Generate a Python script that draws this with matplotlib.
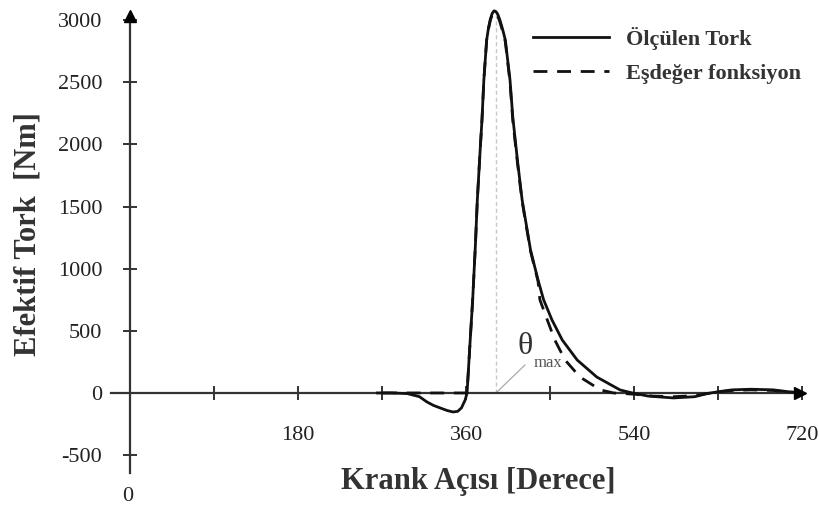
import numpy as np
import matplotlib
matplotlib.use("Agg")
import matplotlib.pyplot as plt

plt.rcParams['font.family'] = ['Liberation Serif', 'DejaVu Serif']

# ---- data (crank angle in degrees, torque in Nm) ----
angle_meas = [265, 280, 297, 310, 318, 325, 332, 340, 346, 351, 355, 359, 361,
              364, 367, 370, 372, 375, 377, 379, 382, 384, 386, 388, 390, 392,
              394, 396, 398, 400, 402, 407, 410, 415, 420, 429, 437, 443, 452,
              463, 479, 500, 525, 538, 555, 582, 605, 618, 630, 645, 665, 689,
              705, 720]
torque_meas = [0, 0, -5, -30, -72, -100, -120, -142, -153, -148, -120, -56, 0,
               380, 748, 1200, 1553, 1950, 2200, 2520, 2840, 2940, 3010, 3055, 3075, 3068,
               3045, 3005, 2955, 2900, 2840, 2520, 2220, 1870, 1553, 1150, 910, 750, 587,
               426, 265, 128, 24, 0, -25, -40, -30, -5, 10, 25, 30, 25,
               10, 0]

angle_equiv = [271, 300, 330, 355, 361, 364, 367, 370, 372, 375, 377, 379, 382,
               384, 386, 388, 390, 392, 394, 396, 398, 400, 402, 407, 410, 415,
               420, 429, 437, 439, 447, 455, 466, 482, 504, 518, 540, 560, 582,
               605, 618, 630, 645, 665, 689, 705, 720]
torque_equiv = [0, 0, 0, 0, 0, 380, 748, 1200, 1553, 1950, 2200, 2520, 2840,
                2930, 3000, 3045, 3062, 3055, 3030, 2990, 2940, 2885, 2825, 2500, 2190, 1850,
                1540, 1140, 900, 750, 587, 426, 265, 128, 24, 0, -10, -25, -30,
                -22, -5, 8, 20, 25, 20, 8, 0]

theta_max = 392
yticks = [-500, 0, 500, 1000, 1500, 2000, 2500, 3000]
xticks = [90, 180, 270, 360, 450, 540, 630, 720]
xtick_labels = ['', '180', '', '360', '', '540', '', '720']

axis_col = '#333333'

fig = plt.figure(figsize=(8.19, 5.12), dpi=100)
ax = fig.add_axes([111 / 819, 39 / 512, 708 / 819, 473 / 512])
ax.set_xlim(-20.4, 738)
ax.set_ylim(-644, 3162)

# axes through the origin with arrow heads
for s in ['top', 'right']:
    ax.spines[s].set_visible(False)
ax.spines['left'].set_position(('data', 0))
ax.spines['bottom'].set_position(('data', 0))
ax.spines['left'].set_bounds(-644, 3000)
ax.spines['bottom'].set_bounds(-20.4, 715)
for s in ['left', 'bottom']:
    ax.spines[s].set_color(axis_col)
    ax.spines[s].set_linewidth(1.6)
ax.plot(0, 3035, '^', color='black', ms=8, clip_on=False, zorder=5)
ax.plot(718, 0, '>', color='black', ms=9, clip_on=False, zorder=5)

ax.set_yticks(yticks)
ax.set_yticklabels([str(v) for v in yticks])
ax.set_xticks(xticks)
ax.set_xticklabels(xtick_labels)
ax.tick_params(axis='both', direction='inout', length=10, width=1.4,
               color=axis_col, labelcolor='#222222', labelsize=16)
ax.tick_params(axis='y', pad=15)
ax.tick_params(axis='x', pad=19)

# theta max marker
ax.plot([theta_max, theta_max], [0, 3040], color='#c8c8c8', lw=1.0,
        linestyle=(0, (3, 2)), zorder=1)
ax.plot([theta_max, 423], [0, 225], color='#aaaaaa', lw=0.9, zorder=1)
ax.text(415, 375, '\u03b8', fontsize=23, color='#333333', ha='left', va='center')
ax.text(432, 245, 'max', fontsize=12, color='#555555', ha='left', va='center')

# curves
l1, = ax.plot(angle_meas, torque_meas, color='#111111', lw=2.0,
              solid_joinstyle='round', label='\u00d6l\u00e7\u00fclen Tork', zorder=3)
l2, = ax.plot(angle_equiv, torque_equiv, color='#111111', lw=2.0,
              linestyle=(0, (5, 3.5)), label='E\u015fde\u011fer fonksiyon', zorder=4)

leg = ax.legend(handles=[l1, l2], loc='upper left',
                bbox_to_anchor=(533 / 819, 1 - 27 / 512),
                bbox_transform=fig.transFigure, frameon=False,
                prop={'weight': 'bold', 'size': 16}, handlelength=3.4,
                handletextpad=0.8, labelspacing=0.6, borderpad=0,
                borderaxespad=0)
for t in leg.get_texts():
    t.set_color('#333333')

# origin label and axis titles
ax.text(-2, -830, '0', fontsize=16, color='#222222', ha='center', va='center',
        clip_on=False)
fig.text(28 / 819, 1 - 234 / 512, 'Efektif Tork  [Nm]', rotation=90,
         fontsize=22, fontweight='bold', color='#333333', ha='center', va='center')
fig.text(478 / 819, 1 - 482 / 512, 'Krank A\u00e7\u0131s\u0131 [Derece]',
         fontsize=22, fontweight='bold', color='#333333', ha='center', va='center')

fig.savefig('out.png', dpi=100)
